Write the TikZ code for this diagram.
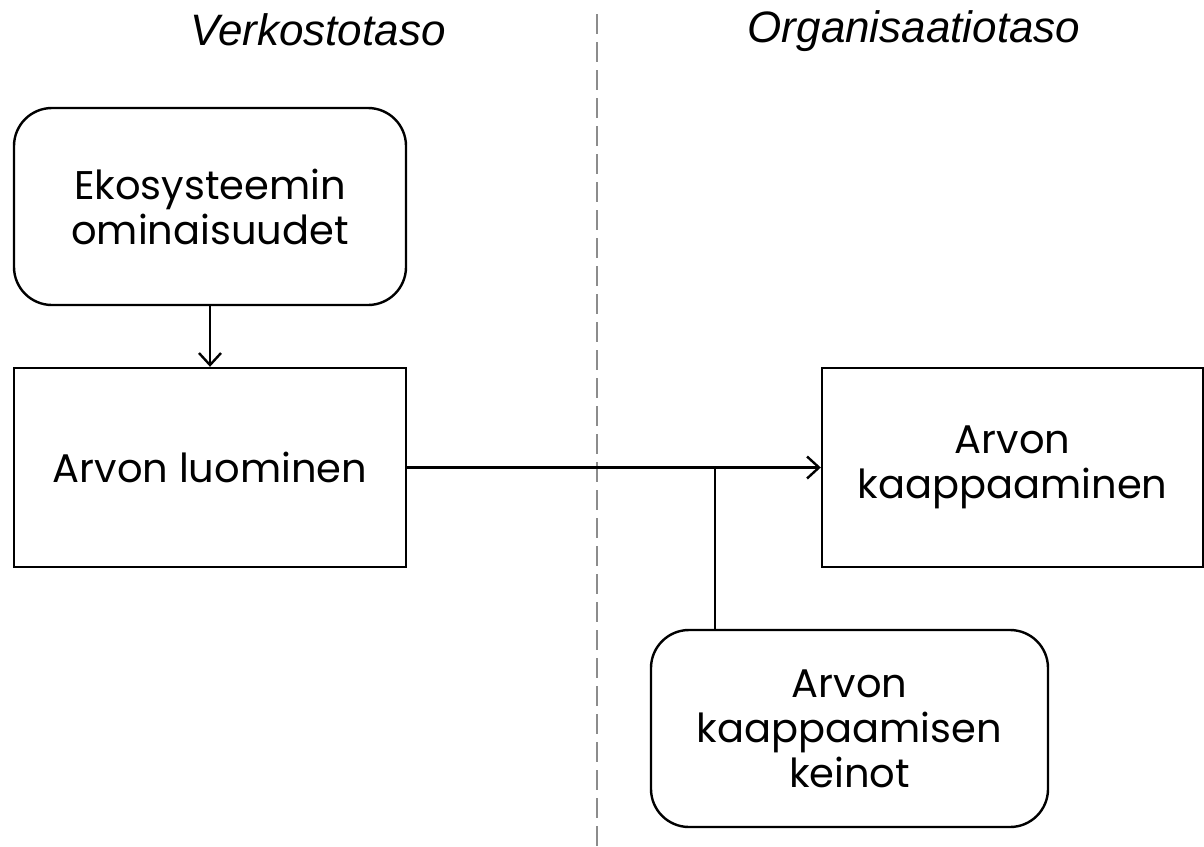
\documentclass[tikz,border=0pt]{standalone}
\usepackage{fontspec}
\setmainfont{Poppins}
\newfontfamily\hdrfont{Liberation Sans}
\usetikzlibrary{arrows.meta}
\begin{document}
\begin{tikzpicture}[x=1pt,y=-1pt,
  box/.style={draw=black,line width=2.4pt,fill=white,align=center,font=\fontsize{40}{45}\selectfont,text=black,inner sep=0pt},
  rbox/.style={box,rounded corners=38pt},
  conn/.style={draw=black,line width=2.4pt},
  arr/.style={conn,-{Straight Barb[length=12pt,width=22pt,line width=2.4pt]}},
  hdr/.style={font=\hdrfont\itshape\fontsize{44}{48}\selectfont,text=black,anchor=center},
  divider/.style={draw=black!45,line width=2.6pt,dash pattern=on 20pt off 8pt}]
\useasboundingbox (0,0) rectangle (1204,846);
\draw[divider] (597,14) -- (597,846);
\node[hdr] (h1) at (318,30) {Verkostotaso};
\node[hdr] (h2) at (914,31) {Organisaatiotaso};
\node[rbox,minimum width=392pt,minimum height=197pt] (eko) at (210,206.5) {Ekosysteemin\\ominaisuudet};
\node[box,minimum width=392pt,minimum height=199pt] (luo) at (210,467.5) {Arvon luominen};
\node[box,minimum width=381pt,minimum height=199pt] (kaap) at (1012.5,467.5) {Arvon\\kaappaaminen};
\node[rbox,minimum width=397pt,minimum height=197pt] (kei) at (849.5,728.5) {Arvon\\kaappaamisen\\keinot};
\coordinate (j) at (715,467);
\draw[arr] (eko.south) -- (luo.north);
\draw[arr] (luo.east) -- (kaap.west);
\draw[conn] (j) -- (j |- kei.north);
\end{tikzpicture}
\end{document}
